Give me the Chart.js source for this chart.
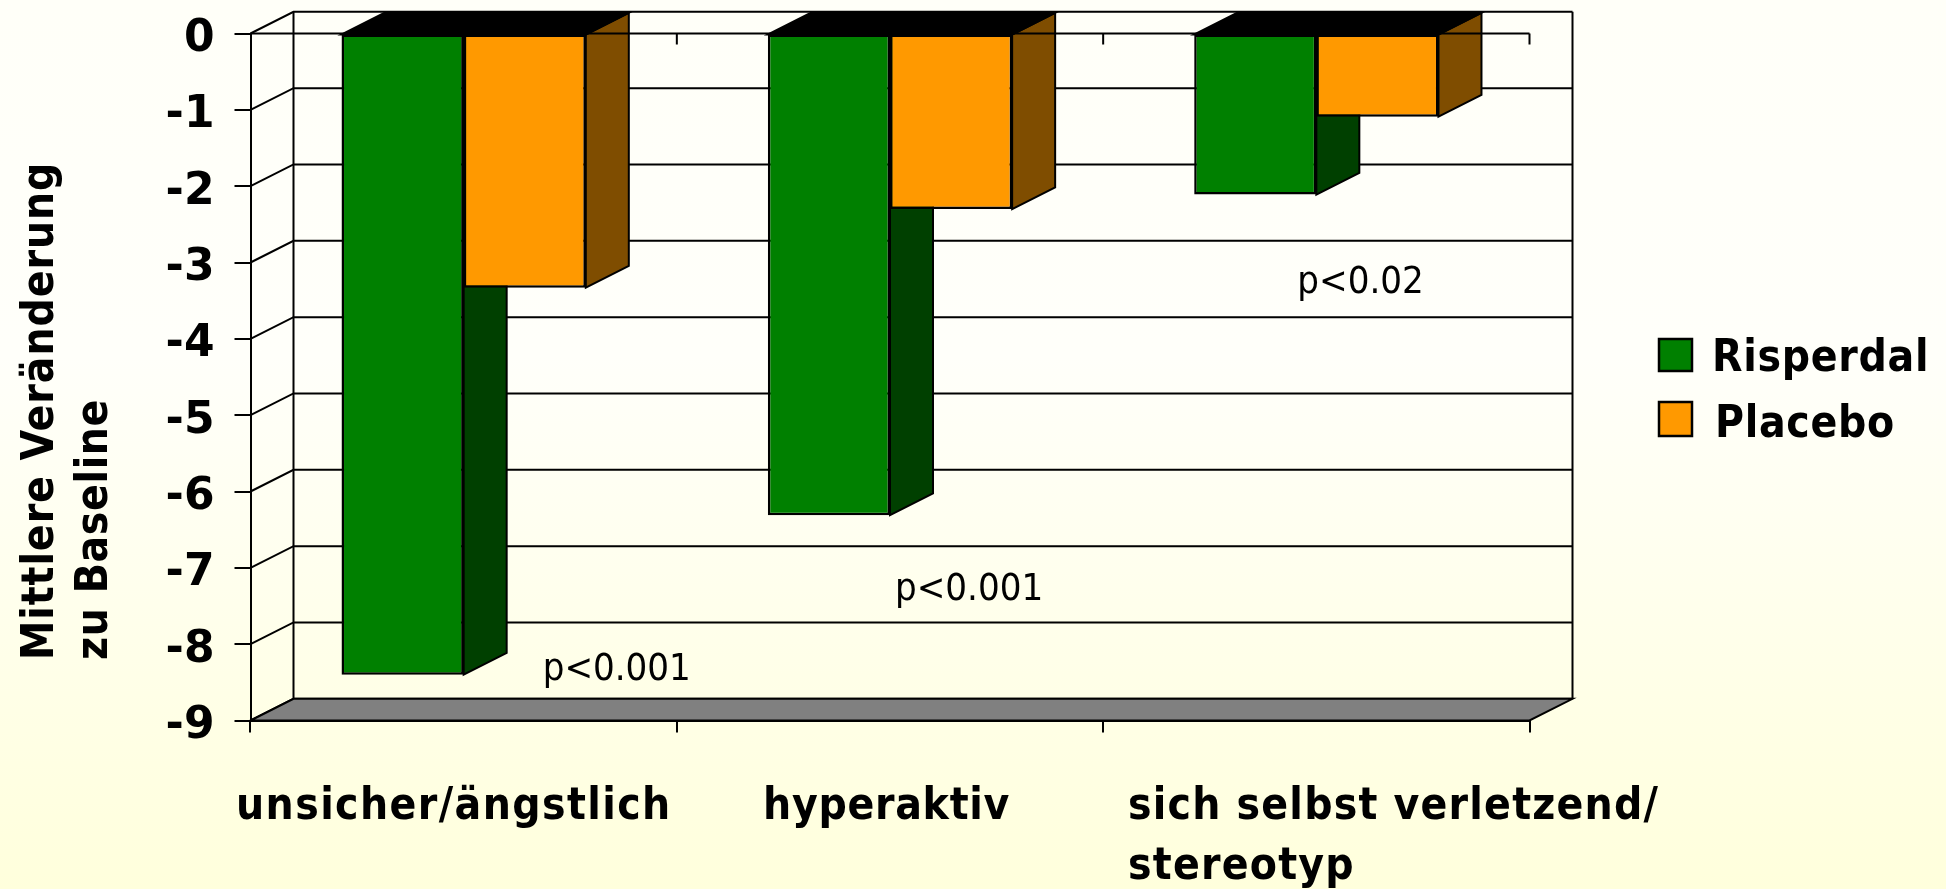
<!DOCTYPE html>
<html lang="de">
<head>
    <meta charset="UTF-8">
    <title>Mittlere Veränderung zu Baseline</title>
    <style>
        body {
            margin: 0;
            overflow: hidden;
            background: linear-gradient(#FFFFF8 0%, #FFFFFA 40%, #FFFFDC 100%);
        }
        .chart-container {
            width: 1946px;
            height: 889px;
        }
    </style>
</head>
<body>
    <div class="chart-container">
        <canvas id="barChart" width="1946" height="889"></canvas>
    </div>

    <script src="https://cdn.jsdelivr.net/npm/chart.js"></script>
    <script>
        // Chart data
        const categories = ['unsicher/ängstlich', 'hyperaktiv', ['sich selbst verletzend/', 'stereotyp']];
        const seriesNames = ['Risperdal', 'Placebo'];
        const risperdal = [-8.4, -6.31, -2.11];
        const placebo = [-3.33, -2.3, -1.09];
        const pLabels = ['p<0.001', 'p<0.001', 'p<0.02'];
        const pLevels = [-8.47, -7.42, -3.4];

        // Layout and style
        const FONT_FAMILY = '"DejaVu Sans Condensed", "DejaVu Sans", sans-serif';
        const BOLD_FONT = 'bold 44px ' + FONT_FAMILY;
        const LINE = '#000000';
        const COLORS = ['#008000', '#FF9900'];
        const SIDE_COLORS = ['#004000', '#7F4D00'];
        const DEPTH_X = 43;
        const DEPTH_Y = 21.7;
        const P_OFFSETS = [79, 5, -19];
        const CATEGORY_X = [236, 763, 1128];
        const CATEGORY_SPACING = [1.4, 0.7, 1.2];
        const CATEGORY_Y = 819;
        const CATEGORY_LINE = 60;

        function strokePoly(ctx, points, fill) {
            ctx.beginPath();
            points.forEach((p, i) => i ? ctx.lineTo(p[0], p[1]) : ctx.moveTo(p[0], p[1]));
            ctx.closePath();
            if (fill) {
                ctx.fillStyle = fill;
                ctx.fill();
            }
            ctx.stroke();
        }

        // Pseudo 3D walls, floor and bar sides go under the bars
        const depthPlugin = {
            id: 'depth',
            beforeDatasetsDraw(chart) {
                const { ctx, chartArea: area, scales } = chart;
                const y = scales.y;
                ctx.save();
                ctx.strokeStyle = LINE;
                ctx.lineWidth = 2;

                const backLeft = area.left + DEPTH_X;
                const backRight = area.right + DEPTH_X;

                y.ticks.forEach(tick => {
                    const py = y.getPixelForValue(tick.value);
                    ctx.beginPath();
                    ctx.moveTo(area.left, py);
                    ctx.lineTo(backLeft, py - DEPTH_Y);
                    ctx.lineTo(backRight, py - DEPTH_Y);
                    ctx.stroke();
                });
                ctx.beginPath();
                ctx.moveTo(backLeft, area.top - DEPTH_Y);
                ctx.lineTo(backLeft, area.bottom - DEPTH_Y);
                ctx.moveTo(backRight, area.top - DEPTH_Y);
                ctx.lineTo(backRight, area.bottom - DEPTH_Y);
                ctx.stroke();

                strokePoly(ctx, [
                    [area.left, area.bottom],
                    [area.right, area.bottom],
                    [backRight, area.bottom - DEPTH_Y],
                    [backLeft, area.bottom - DEPTH_Y]
                ], '#808080');

                chart.data.datasets.forEach((ds, i) => {
                    chart.getDatasetMeta(i).data.forEach(bar => {
                        const right = bar.x + bar.width / 2;
                        const left = bar.x - bar.width / 2;
                        strokePoly(ctx, [
                            [right, bar.base],
                            [right + DEPTH_X, bar.base - DEPTH_Y],
                            [right + DEPTH_X, bar.y - DEPTH_Y],
                            [right, bar.y]
                        ], SIDE_COLORS[i]);
                        strokePoly(ctx, [
                            [left, bar.base],
                            [right, bar.base],
                            [right + DEPTH_X, bar.base - DEPTH_Y],
                            [left + DEPTH_X, bar.base - DEPTH_Y]
                        ], '#000000');
                    });
                });

                // Zero line with its small ticks, over the bar sides
                ctx.beginPath();
                ctx.moveTo(area.left, area.top);
                ctx.lineTo(area.right, area.top);
                scales.x.ticks.forEach((tick, i) => {
                    const px = area.left + (i + 1) * area.width / categories.length;
                    ctx.moveTo(px, area.top);
                    ctx.lineTo(px, area.top + 11);
                });
                ctx.stroke();
                ctx.restore();
            },
            afterDraw(chart) {
                const { ctx, scales } = chart;
                ctx.save();
                ctx.fillStyle = '#000000';

                // Category labels are placed like free text boxes
                ctx.font = BOLD_FONT;
                ctx.textAlign = 'left';
                ctx.textBaseline = 'alphabetic';
                categories.forEach((label, i) => {
                    ctx.letterSpacing = CATEGORY_SPACING[i] + 'px';
                    [].concat(label).forEach((line, j) => {
                        ctx.fillText(line, CATEGORY_X[i], CATEGORY_Y + j * CATEGORY_LINE);
                    });
                });

                // Legend
                ctx.letterSpacing = '0.7px';
                seriesNames.forEach((name, i) => {
                    const boxY = [339, 402][i];
                    ctx.fillStyle = COLORS[i];
                    ctx.strokeStyle = LINE;
                    ctx.lineWidth = 2.5;
                    ctx.fillRect(1659, boxY, 33, i ? 34 : 32);
                    ctx.strokeRect(1659, boxY, 33, i ? 34 : 32);
                    ctx.fillStyle = '#000000';
                    ctx.fillText(name, [1712, 1715][i], [371, 437][i]);
                });

                // Axis title, both lines start at the same height
                ctx.save();
                ctx.translate(53, 660);
                ctx.rotate(-Math.PI / 2);
                ctx.letterSpacing = '0.9px';
                ctx.fillText('Mittlere Veränderung', 0, 0);
                ctx.letterSpacing = '0.6px';
                ctx.fillText('zu Baseline', 0, 54);
                ctx.restore();

                // p values
                ctx.font = '38px ' + FONT_FAMILY;
                ctx.letterSpacing = '0px';
                pLabels.forEach((label, i) => {
                    const px = scales.x.getPixelForValue(i) + P_OFFSETS[i];
                    ctx.fillText(label, px, scales.y.getPixelForValue(pLevels[i]));
                });
                ctx.restore();
            }
        };

        new Chart(document.getElementById('barChart'), {
            type: 'bar',
            data: {
                labels: categories,
                datasets: seriesNames.map((name, i) => ({
                    label: name,
                    data: i ? placebo : risperdal,
                    backgroundColor: COLORS[i],
                    borderColor: LINE,
                    borderWidth: 2.5,
                    borderSkipped: false,
                    barPercentage: 1,
                    categoryPercentage: 0.573
                }))
            },
            options: {
                responsive: false,
                animation: false,
                layout: { padding: { top: 33.5, right: 416.5, left: 0, bottom: 0 } },
                plugins: {
                    legend: { display: false },
                    tooltip: { enabled: false }
                },
                scales: {
                    x: {
                        afterFit(scale) { scale.height = 168.5; },
                        border: { color: LINE, width: 2 },
                        grid: { color: LINE, lineWidth: 2, drawOnChartArea: false, tickLength: 12 },
                        ticks: { display: false }
                    },
                    y: {
                        min: -9,
                        max: 0,
                        afterFit(scale) { scale.width = 250.5; },
                        border: { color: LINE, width: 2 },
                        grid: { color: LINE, lineWidth: 2, drawOnChartArea: false, tickLength: 16 },
                        ticks: {
                            stepSize: 1,
                            color: '#000000',
                            padding: 20,
                            // empty first line moves the number a little below its tick
                            callback: value => ['', String(value)],
                            font: { family: '"DejaVu Sans", sans-serif', size: 44, weight: 'bold', lineHeight: '12px' }
                        }
                    }
                }
            },
            plugins: [depthPlugin]
        });
    </script>
</body>
</html>
